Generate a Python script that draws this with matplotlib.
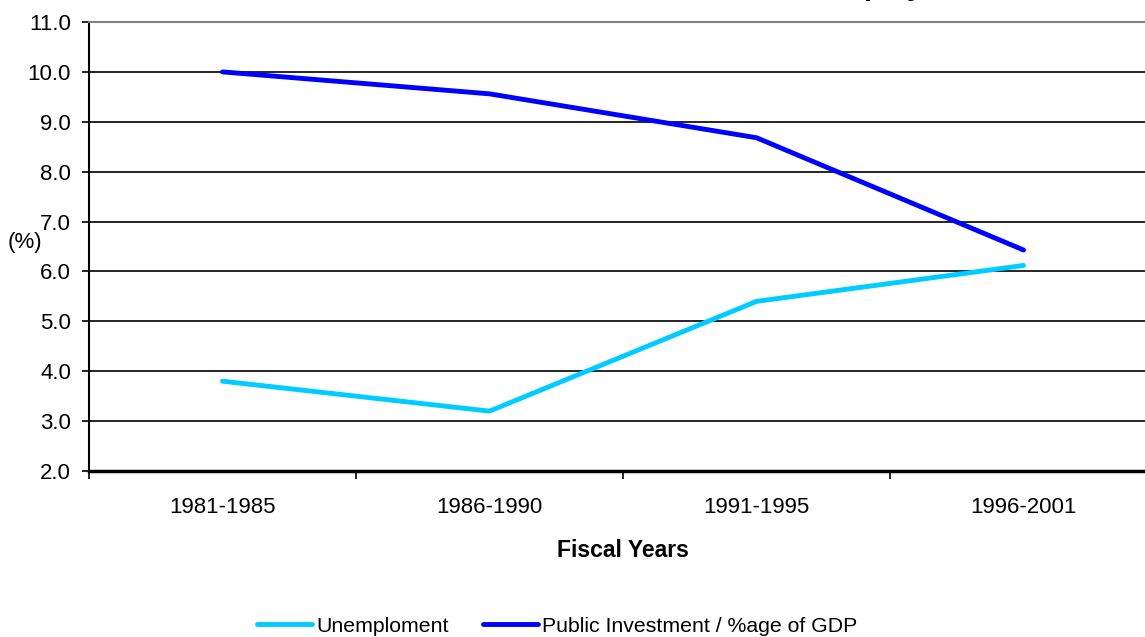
import matplotlib.pyplot as plt

plt.rcParams['font.family'] = ['Liberation Sans', 'DejaVu Sans']

periods = ['1981-1985', '1986-1990', '1991-1995', '1996-2001']
unemployment = [3.8, 3.2, 5.4, 6.12]
public_investment = [10.0, 9.56, 8.68, 6.43]

W, H = 1145, 637
fig = plt.figure(figsize=(W / 100, H / 100), dpi=100)
# plot area runs a little past the right edge, as in the reference
ax = fig.add_axes([89 / W, 1 - 471 / H, 1068 / W, 449 / H])

x = list(range(len(periods)))
ax.plot(x, unemployment, color='#00CCFF', lw=3.5, solid_capstyle='round',
        label='Unemploment', zorder=3)
ax.plot(x, public_investment, color='#0000FF', lw=3.5, solid_capstyle='round',
        label='Public Investment / %age of GDP', zorder=3)

ax.set_xlim(-0.5, len(periods) - 0.5)
ax.set_ylim(2, 11)
ax.set_yticks([2 + i for i in range(10)])
ax.set_yticklabels([f'{2 + i:.1f}' for i in range(10)], fontsize=16)
for v in range(3, 11):
    ax.axhline(v, color='black', lw=1.2, zorder=1)

ax.set_xticks([i - 0.5 for i in range(len(periods) + 1)])
ax.set_xticklabels([])
ax.set_xticks(x, minor=True)
ax.set_xticklabels(periods, minor=True, fontsize=16)
ax.tick_params(axis='x', which='minor', length=0, pad=19)
ax.tick_params(axis='x', which='major', length=6, width=1.2, direction='out')
ax.tick_params(axis='y', length=5, width=1.2, direction='out', pad=8)

ax.spines['top'].set_color('#808080')
ax.spines['top'].set_linewidth(1.5)
ax.spines['right'].set_visible(False)
ax.spines['left'].set_linewidth(1.5)
ax.spines['bottom'].set_linewidth(2.5)

ax.set_xlabel('Fiscal Years', fontsize=16.5, fontweight='bold', labelpad=15)
fig.text(25 / W, 1 - 243 / H, '(%)', fontsize=16, ha='center', va='center')

# title, mostly cut off above the image
fig.text(475 / W, 1 + 5 / H, 'Public Investment and Unemployment', fontsize=20.5,
         fontweight='bold', ha='left', va='baseline')

fig.legend(loc='center', bbox_to_anchor=(557 / W, 1 - 626 / H), ncol=2,
           frameon=False, fontsize=15.3, handlelength=2.6, handletextpad=0.2,
           columnspacing=1.6)

fig.savefig('out.png', dpi=100)
